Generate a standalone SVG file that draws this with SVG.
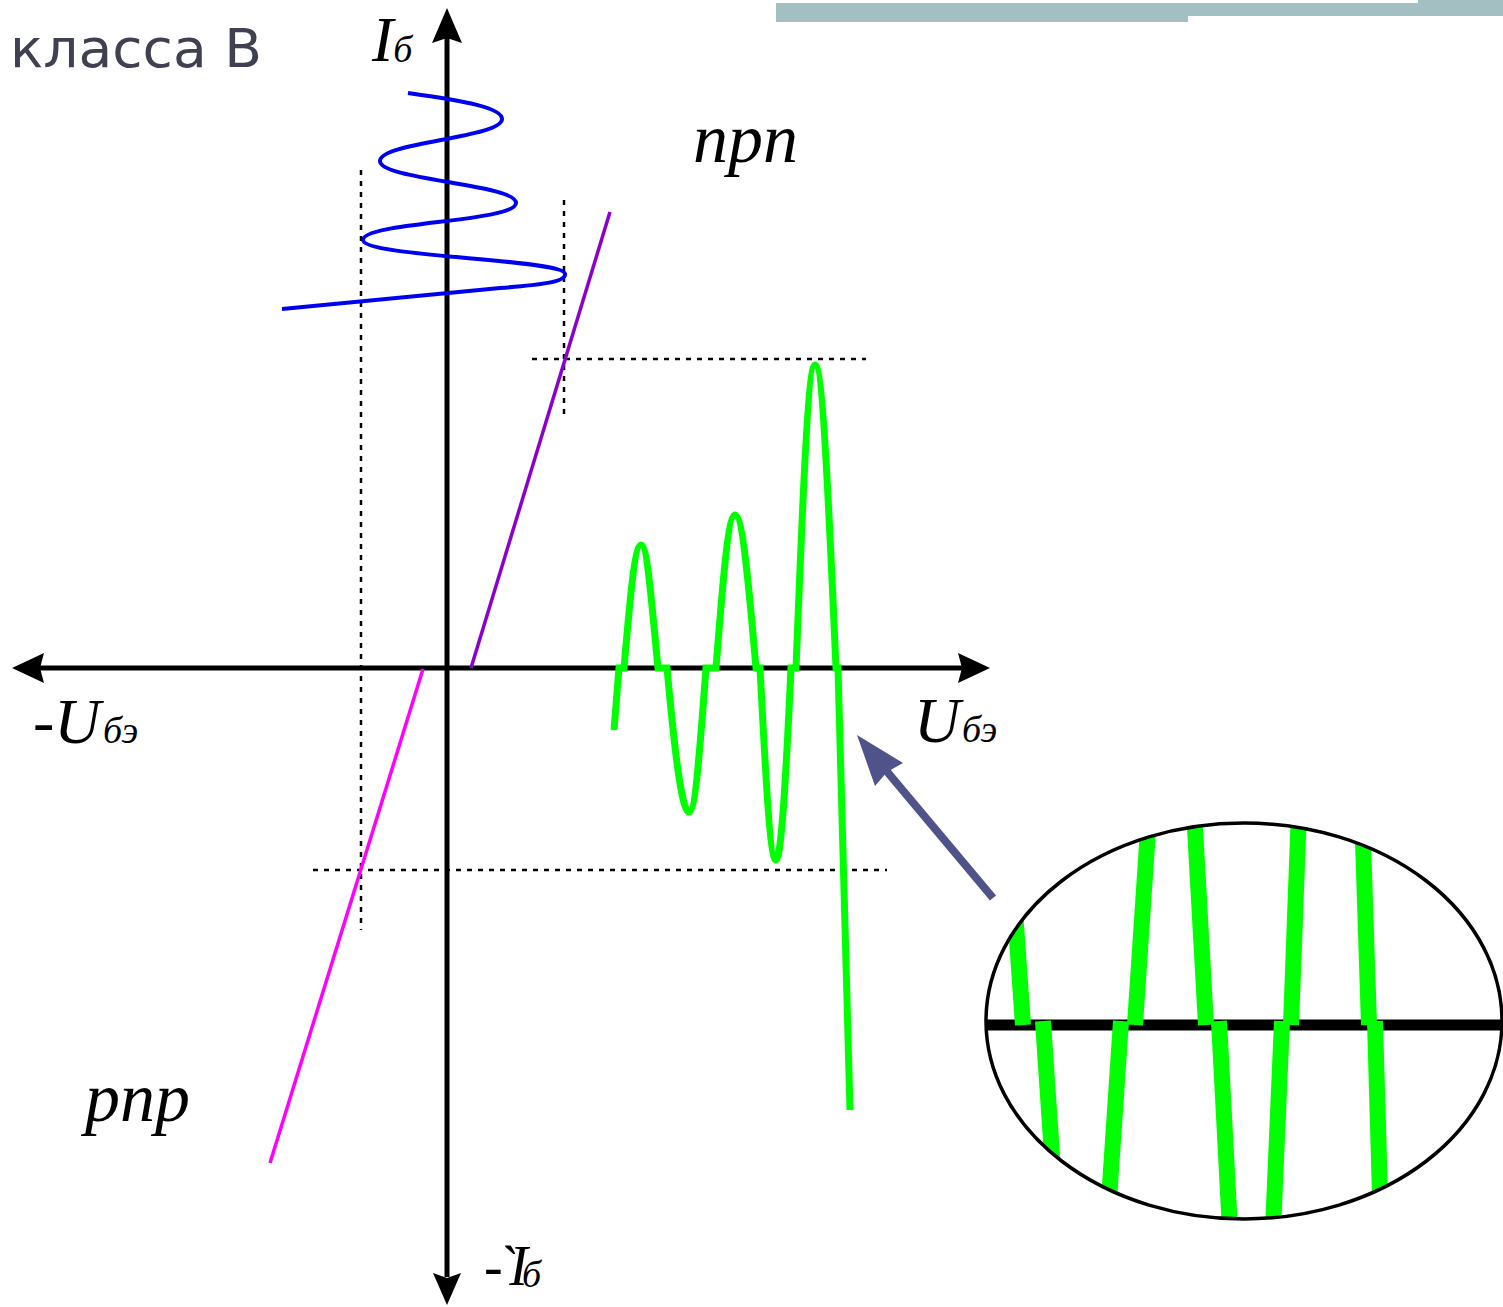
<svg xmlns="http://www.w3.org/2000/svg" width="1503" height="1307" viewBox="0 0 1503 1307">
<style>
.ser{font-family:"Liberation Serif","Times New Roman",serif;font-style:italic;fill:#000}
.dot{stroke:#000;stroke-width:2.5;stroke-dasharray:5,6;fill:none}
.axis{stroke:#000;stroke-width:5;fill:none}
.head{fill:#000}
.gthin{stroke:#00ff00;stroke-width:7;fill:none;stroke-linejoin:miter}
.gthick{stroke:#00ff00;stroke-width:16;fill:none;stroke-linecap:butt}
</style>
<defs>
<clipPath id="ec"><ellipse cx="1244" cy="1021" rx="258" ry="198"/></clipPath>
</defs>
<rect width="1503" height="1307" fill="#fff"/>
<g id="topbar" fill="#a3bfc1">
<rect x="776" y="3" width="412" height="19"/>
<rect x="1188" y="3" width="315" height="13"/>
<rect x="1418" y="0" width="85" height="16"/>
</g>
<g id="title">
<text x="10" y="67" font-family="'DejaVu Sans',Verdana,sans-serif" font-size="54" fill="#3f4050" textLength="252" lengthAdjust="spacingAndGlyphs">класса В</text>
</g>
<g id="guides">
<line class="dot" x1="361" y1="170" x2="361" y2="930"/>
<line class="dot" x1="564" y1="200" x2="564" y2="417"/>
<line class="dot" x1="532" y1="359" x2="866" y2="359"/>
<line class="dot" x1="313" y1="870" x2="887" y2="870"/>
</g>
<g id="connectors">
<line class="axis" x1="40" y1="668" x2="962" y2="668"/>
<polygon class="head" points="12,668 44,653 40,668 44,683"/>
<polygon class="head" points="990,668 958,653 962,668 958,683"/>
<line class="axis" x1="447" y1="38" x2="447" y2="1277"/>
<polygon class="head" points="447,8 432,43 447,38 462,43"/>
<polygon class="head" points="447,1305 433,1273 447,1278 461,1273"/>
</g>
<g id="input-signal">
<path d="M408,93 C466,101 502,108 502,119 C502,138 380,142 380,161 C380,180 516,184 516,203 C516,222 363,222 363,240 C363,257 565,259 565,274 C566,282 540,285 500,288 L282,309" fill="none" stroke="#0000f0" stroke-width="4"/>
</g>
<g id="npn-characteristic">
<line x1="471" y1="668" x2="610" y2="212" stroke="#8b00cc" stroke-width="3.5"/>
</g>
<g id="pnp-characteristic">
<line x1="423" y1="669" x2="270" y2="1163" stroke="#ff00ff" stroke-width="3.5"/>
</g>
<g id="output-signal">
<path class="gthin" d="M614,730 L619,668 L624,668 C629.5,605 634.5,545 641,545 C647.4,545 651.8,605 658,668 L667,668 C673.8,741.6 681.2,812 689,812 C695.5,812 700.5,741.6 706,668 L716,668 C722.2,589.8 727.8,515 735,515 C742.8,515 749.2,589.8 756,668 L760,668 C765.2,766 769.8,860 776,860 C781.5,860 786.5,766 791,668 L796,668 C802.2,513 807.8,365 815,365 C822.8,365 829.2,513 836,668 L838,668 L850,1110"/>
</g>
<g id="labels">
<text class="ser" x="372" y="61" font-size="64">I<tspan font-size="38" dy="1">б</tspan></text>
<text class="ser" x="33" y="743" font-size="64">-U<tspan font-size="38" x="103">бэ</tspan></text>
<text class="ser" x="914" y="742" font-size="64">U<tspan font-size="38" x="962">бэ</tspan></text>
<text class="ser" x="484" y="1285" font-size="56" letter-spacing="-6">-`I<tspan font-size="38" dy="2">б</tspan></text>
<text class="ser" x="693" y="162" font-size="70">npn</text>
<text class="ser" x="85" y="1121" font-size="70">pnp</text>
</g>
<g id="pointer">
<line x1="993" y1="898" x2="884" y2="768" stroke="#50538a" stroke-width="8"/>
<polygon points="857,735 875,786 887,772 903,763" fill="#50538a"/>
</g>
<g id="inset">
<ellipse cx="1244" cy="1021" rx="258" ry="198" fill="#fff"/>
<g clip-path="url(#ec)">
<line x1="980" y1="1025" x2="1510" y2="1025" stroke="#000" stroke-width="11"/>
<line class="gthick" x1="1009" y1="825" x2="1023" y2="1025"/>
<line class="gthick" x1="1043" y1="1021" x2="1057" y2="1230"/>
<line class="gthick" x1="1135" y1="1025" x2="1149" y2="815"/>
<line class="gthick" x1="1121" y1="1021" x2="1107" y2="1230"/>
<line class="gthick" x1="1206" y1="1025" x2="1194" y2="810"/>
<line class="gthick" x1="1219" y1="1021" x2="1230" y2="1230"/>
<line class="gthick" x1="1291" y1="1025" x2="1299" y2="810"/>
<line class="gthick" x1="1282" y1="1021" x2="1273" y2="1230"/>
<line class="gthick" x1="1369" y1="1025" x2="1362" y2="810"/>
<line class="gthick" x1="1375" y1="1021" x2="1381" y2="1230"/>
</g>
<ellipse cx="1244" cy="1021" rx="258" ry="198" fill="none" stroke="#000" stroke-width="3.5"/>
</g>
</svg>
